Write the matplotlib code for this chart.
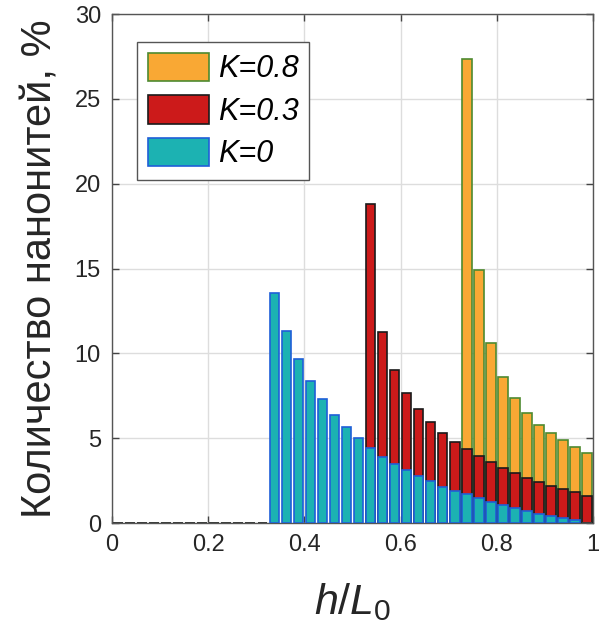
import numpy as np
import matplotlib
matplotlib.use("Agg")
import matplotlib.pyplot as plt
from matplotlib.patches import Patch

plt.rcParams['font.family'] = ['Liberation Sans', 'DejaVu Sans']
plt.rcParams['mathtext.fontset'] = 'custom'
plt.rcParams['mathtext.it'] = 'Liberation Sans:italic'
plt.rcParams['mathtext.rm'] = 'Liberation Sans'

# bin centres: 40 bins over [0, 1]
bin_centers = (np.arange(40) + 0.5) / 40

# K = 0 (bins 13..38 non-zero)
k0_values = [0]*13 + [13.54, 11.31, 9.64, 8.35, 7.29, 6.38, 5.66, 4.99, 4.40, 3.91,
                      3.49, 3.10, 2.75, 2.46, 2.14, 1.90, 1.69, 1.45, 1.24, 1.06,
                      0.86, 0.71, 0.55, 0.39, 0.27, 0.16] + [0.0]
# K = 0.3 (bins 21..39)
k03_values = [0]*21 + [18.80, 11.27, 9.00, 7.64, 6.70, 5.93, 5.30, 4.76, 4.36, 3.95,
                       3.57, 3.26, 2.93, 2.67, 2.42, 2.20, 1.98, 1.81, 1.61]
# K = 0.8 (bins 29..39)
k08_values = [0]*29 + [27.34, 14.89, 10.63, 8.62, 7.39, 6.46, 5.77, 5.28, 4.89, 4.50, 4.14]

labels = ['K=0.8', 'K=0.3', 'K=0']
x_ticks = [0, 0.2, 0.4, 0.6, 0.8, 1]
x_ticklabels = ['0', '0.2', '0.4', '0.6', '0.8', '1']
y_ticks = [0, 5, 10, 15, 20, 25, 30]

fills = ['#F9A834', '#CC1A1A', '#1CB2B2']
edges = ['#4E8A30', '#1A1A1A', '#1F5FD8']

fig = plt.figure(figsize=(6.06, 6.33), dpi=100)
ax = fig.add_axes([112/606, 1 - 523/633, (593-112)/606, (523-14)/633])

w = 0.8 / 40
k0_edges = [edges[2] if v > 0 else '#444444' for v in k0_values]
ax.bar(bin_centers, k08_values, width=w, color=fills[0], edgecolor=edges[0], linewidth=1.2, zorder=2)
ax.bar(bin_centers, k03_values, width=w, color=fills[1], edgecolor=edges[1], linewidth=1.2, zorder=3)
ax.bar(bin_centers, k0_values, width=w, color=fills[2], edgecolor=k0_edges, linewidth=1.2, zorder=4)

ax.set_xlim(0, 1)
ax.set_ylim(0, 30)
ax.set_xticks(x_ticks)
ax.set_xticklabels(x_ticklabels)
ax.set_yticks(y_ticks)
ax.grid(True, color='#DDDDDD', linewidth=1.0, zorder=0)
ax.set_axisbelow(True)
ax.tick_params(direction='in', length=5, width=1, colors='#444444', labelcolor='#262626',
               labelsize=17, top=True, right=True, pad=8)
for s in ax.spines.values():
    s.set_color('#555555')
    s.set_linewidth(1.0)

ax.set_ylabel('Количество нанонитей, %', fontsize=30, color='#262626', labelpad=10)
ax.set_xlabel(r'$h/L_{\mathrm{0}}$', fontsize=31, color='#262626', labelpad=18)

handles = [Patch(facecolor=f, edgecolor=e, linewidth=1.2) for f, e in zip(fills, edges)]
leg = ax.legend(handles, labels, loc='upper left', bbox_to_anchor=(0.052, 0.945),
                prop={'style': 'italic', 'size': 22}, fancybox=False, framealpha=1,
                edgecolor='#555555', handlelength=2.0, handleheight=1.05,
                handletextpad=0.3, borderpad=0.35, labelspacing=0.36, borderaxespad=0)
leg.get_frame().set_linewidth(1.0)

fig.savefig('out.png', dpi=100)
